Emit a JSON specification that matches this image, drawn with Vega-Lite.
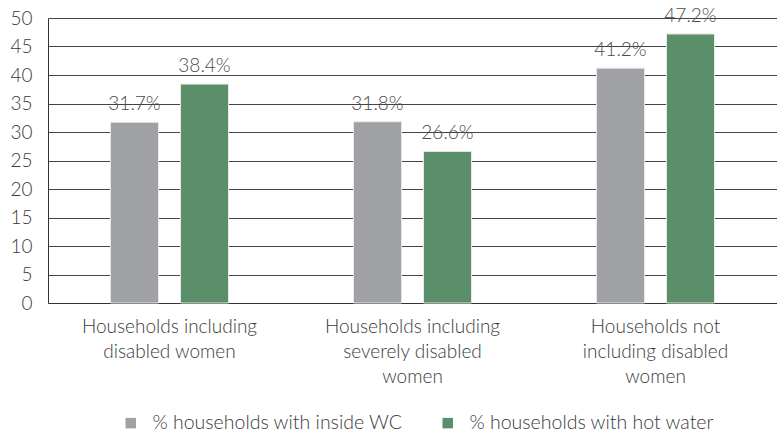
{
  "$schema": "https://vega.github.io/schema/vega-lite/v6.json",
  "width": 729,
  "height": 285,
  "autosize": {"type": "none"},
  "padding": {"left": 48, "top": 18, "right": 0, "bottom": 130},
  "background": "white",
  "config": {
    "font": "Lato",
    "view": {"stroke": null},
    "axis": {"labelFont": "Lato", "labelFontWeight": 300, "labelColor": "#3a3a3a", "labelFontSize": 19, "ticks": false, "title": null}
  },
  "data": {"values": [
    {"group": "Households including disabled women", "series": "% households with inside WC", "value": 31.7},
    {"group": "Households including disabled women", "series": "% households with hot water", "value": 38.4},
    {"group": "Households including severely disabled women", "series": "% households with inside WC", "value": 31.8},
    {"group": "Households including severely disabled women", "series": "% households with hot water", "value": 26.6},
    {"group": "Households not including disabled women", "series": "% households with inside WC", "value": 41.2},
    {"group": "Households not including disabled women", "series": "% households with hot water", "value": 47.2}
  ]},
  "transform": [{"calculate": "format(datum.value, '.1f') + '%'", "as": "label"}],
  "encoding": {
    "x": {"field": "group", "type": "nominal", "sort": null,
      "scale": {"paddingInner": 0, "paddingOuter": 0},
      "axis": {"labelAngle": 0, "labelPadding": 14, "labelLineHeight": 25, "labelBaseline": "top", "domainColor": "#333", "domainWidth": 1.2,
        "labelExpr": "datum.value == 'Households including disabled women' ? ['Households including','disabled women'] : datum.value == 'Households including severely disabled women' ? ['Households including','severely disabled','women'] : ['Households not','including disabled','women']"}},
    "xOffset": {"field": "series", "type": "nominal", "sort": ["% households with inside WC", "% households with hot water"],
      "scale": {"paddingInner": 0.314, "paddingOuter": 0.893}},
    "y": {"field": "value", "type": "quantitative",
      "scale": {"domain": [0, 50]},
      "axis": {"values": [0,5,10,15,20,25,30,35,40,45,50], "labelPadding": 16, "domainColor": "#333", "gridColor": "#444", "gridWidth": 1, "grid": true}}
  },
  "layer": [
    {
      "mark": {"type": "bar", "stroke": "#e8e8e8", "strokeWidth": 1},
      "encoding": {
        "color": {"field": "series", "type": "nominal", "sort": ["% households with inside WC", "% households with hot water"],
          "scale": {"range": ["#a0a1a5", "#5a8f6a"]},
          "legend": {"title": null, "orient": "none", "legendX": 73, "legendY": 395, "direction": "horizontal", "symbolType": "square", "symbolSize": 110, "symbolStrokeWidth": 0,
            "labelFont": "Lato", "labelFontWeight": 300, "labelFontSize": 19.5, "labelColor": "#3a3a3a", "labelLimit": 0, "columnPadding": 35, "labelOffset": 12}}
      }
    },
    {
      "mark": {"type": "text", "baseline": "alphabetic", "dy": -12, "font": "Lato", "fontWeight": 300, "fontSize": 19, "color": "#4a4a4a"},
      "encoding": {"text": {"field": "label", "type": "nominal"}}
    }
  ]
}
